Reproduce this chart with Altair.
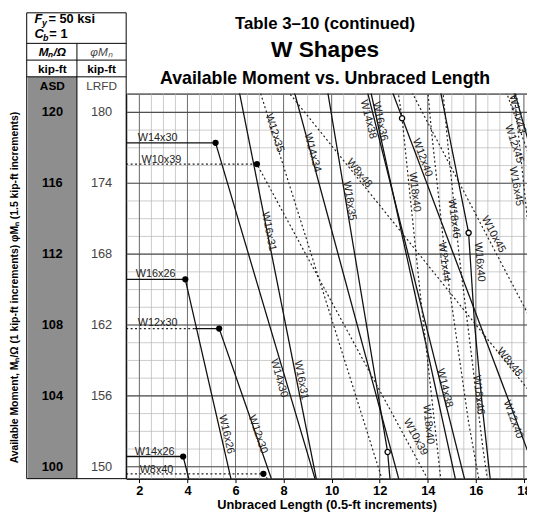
import altair as alt
import numpy as np
import pandas as pd

# ---------------- values ----------------
LB_DOMAIN = [1.45, 18.13]          # unbraced length, ft
M_DOMAIN = [99.33, 121.06]         # ASD available moment, kip-ft
PLOT_W, PLOT_H = 407, 391

x_ticks = [2, 4, 6, 8, 10, 12, 14, 16, 18]
asd_values = [120, 116, 112, 108, 104, 100]
lrfd_values = [180, 174, 168, 162, 156, 150]

shape_names = ["W14x26", "W8x40", "W16x26", "W12x30 left", "W12x30", "W14x30",
               "W10x39", "W16x31", "W12x35", "W14x34", "W18x35", "W14x38",
               "W16x36", "W8x48", "W12x40", "W18x40", "W18x46", "W21x44",
               "W10x45", "W16x40", "W12x45", "W14x43", "W16x45"]
shape_styles = ["solid", "dotted", "solid", "dotted", "solid", "solid",
                "dotted", "solid", "dotted", "solid", "solid", "solid",
                "solid", "dotted", "solid", "dotted", "dotted", "dotted",
                "dotted", "solid", "dotted", "solid", "dotted"]
shape_lb = [
    [1.45, 3.82, 11.1],
    [1.45, 7.16, 29.9],
    [1.45, 3.91, 11.2],
    [1.45, 4.30],
    [4.30, 5.32, 15.6],
    [1.45, 5.17, 14.9],
    [1.45, 6.89, 24.2],
    [4.13, 11.8],
    [5.44, 16.6],
    [5.40, 15.6],
    [4.31, 12.33, 12.5],
    [5.47, 16.2],
    [5.37, 15.2],
    [7.35, 35.2],
    [6.85, 21.1],
    [4.49, 12.93, 13.7, 14.55, 14.75],
    [4.56, 13.7, 14.3, 14.85, 15.3, 16.3, 16.6],
    [4.45, 13.0, 13.55, 14.15, 14.75, 15.7, 16.3],
    [7.10, 26.9],
    [5.55, 15.7, 15.95, 16.3, 16.6],
    [6.89, 22.4],
    [6.68, 20.0],
    [5.55, 17.2, 17.6, 18.3],
]
shape_m = [
    [100.58, 100.58, 62.0],
    [99.60, 99.60, 62.3],
    [110.58, 110.58, 67.4],
    [107.80, 107.80],
    [107.80, 107.80, 67.7],
    [118.28, 118.28, 73.7],
    [117.08, 117.08, 73.8],
    [134.98, 82.7],
    [127.98, 79.9],
    [136.48, 85.2],
    [166.2, 100.83, 98.2],
    [153.7, 95.7],
    [160.0, 99.0],
    [122.58, 75.7],
    [141.6, 90.3],
    [195.9, 119.67, 109.6, 99.2, 97.0],
    [226.6, 137.9, 126.0, 118.0, 112.0, 101.0, 98.2],
    [238.3, 142.8, 128.0, 119.0, 111.5, 102.5, 98.0],
    [137.3, 86.0],
    [182.4, 113.2, 108.0, 103.0, 99.3],
    [160.5, 101.7],
    [174.0, 109.6],
    [205.6, 127.3, 121.0, 112.0],
]

dot_lb = [5.17, 6.89, 3.91, 5.32, 3.82, 7.16]
dot_m = [118.28, 117.08, 110.58, 107.80, 100.58, 99.60]
ring_lb = [12.33, 12.93, 15.70]
ring_m = [100.83, 119.67, 113.20]

hlabel_text = ["W14x30", "W10x39", "W16x26", "W12x30", "W14x26", "W8x40"]
hlabel_lb = [1.93, 2.09, 1.85, 1.93, 1.81, 2.01]
hlabel_m = [118.56, 117.33, 110.89, 108.11, 100.83, 99.83]

rlabel_text = ["W12x35", "W14x34", "W16x31", "W16x31", "W14x30", "W16x26",
               "W12x30", "W14x38", "W16x36", "W12x40", "W8x48", "W18x35",
               "W18x40", "W18x46", "W21x44", "W10x45", "W16x40", "W14x38",
               "W18x40", "W12x40", "W8x48", "W18x46", "W10x39", "W14x43",
               "W12x45", "W16x45"]
rlabel_lb = [7.62, 9.20, 7.38, 8.73, 7.81, 5.62,
             6.93, 11.52, 12.01, 13.77, 11.15, 10.74,
             13.45, 15.09, 14.68, 16.73, 16.15, 14.70,
             14.02, 17.55, 17.40, 16.11, 13.49, 17.72,
             17.59, 17.67]
rlabel_m = [118.83, 117.72, 113.28, 104.89, 105.00, 101.83,
            101.83, 119.61, 119.50, 117.44, 116.56, 115.00,
            115.50, 114.00, 111.56, 113.11, 111.56, 104.44,
            102.39, 102.67, 105.90, 104.06, 101.67, 119.90,
            118.22, 115.83]
rlabel_angle = [72, 75, 79, 79, 74, 77,
                71, 76, 78, 70, 51, 81,
                83, 83, 83, 62, 85, 76,
                84, 70, 51, 84, 62, 75,
                72, 80]

# ---------------- tables ----------------
rows = []
for name, style, lbs, ms in zip(shape_names, shape_styles, shape_lb, shape_m):
    for i, (a, b) in enumerate(zip(lbs, ms)):
        rows.append({"shape": name, "style": style, "idx": i, "Lb": a, "M": b})
lines = pd.DataFrame(rows)
dots = pd.DataFrame({"Lb": dot_lb, "M": dot_m})
rings = pd.DataFrame({"Lb": ring_lb, "M": ring_m})
hlabels = pd.DataFrame({"t": hlabel_text, "Lb": hlabel_lb, "M": hlabel_m})
rlabels = pd.DataFrame({"t": rlabel_text, "Lb": rlabel_lb, "M": rlabel_m, "a": rlabel_angle})
ticks = pd.DataFrame({"M": asd_values, "asd": [str(v) for v in asd_values],
                      "lrfd": [str(v) for v in lrfd_values]})
vminor = pd.DataFrame({"Lb": np.arange(1.5, 18.01, 0.5)})
vmajor = pd.DataFrame({"Lb": x_ticks})
hminor = pd.DataFrame({"M": np.arange(100, 121, 1)})
hmajor = pd.DataFrame({"M": asd_values})
one = pd.DataFrame({"k": [0]})

FONT = "Liberation Sans, Arial, sans-serif"
NARROW = "Liberation Sans Narrow, Liberation Sans, Arial, sans-serif"

xs = alt.Scale(domain=LB_DOMAIN, nice=False, zero=False)
ys = alt.Scale(domain=M_DOMAIN, nice=False, zero=False)
x_axis = alt.Axis(values=x_ticks, format="d", title="Unbraced Length (0.5-ft increments)",
                  grid=False, labelFont=NARROW, labelFontSize=13, labelFontWeight="bold",
                  labelColor="black", labelPadding=2, labelFlush=False, labelOverlap=False,
                  tickSize=4, tickColor="black", domainColor="black", domainWidth=1,
                  titleFont=NARROW, titleFontSize=13, titleFontWeight="bold",
                  titleColor="black", titlePadding=1)
X = alt.X("Lb:Q", scale=xs, axis=x_axis)
Y = alt.Y("M:Q", scale=ys, axis=None)

layers = []
layers.append(alt.Chart(vminor).mark_rule(color="#b4b4b4", strokeWidth=0.7).encode(x=X))
layers.append(alt.Chart(hminor).mark_rule(color="#b4b4b4", strokeWidth=0.7).encode(y=Y))
layers.append(alt.Chart(vmajor).mark_rule(color="#707070", strokeWidth=1).encode(x=X))
layers.append(alt.Chart(hmajor).mark_rule(color="#505050", strokeWidth=1.2).encode(y=Y))

layers.append(alt.Chart(lines).transform_filter(alt.datum.style == "solid")
              .mark_line(clip=True, color="#111111", strokeWidth=1.3)
              .encode(x=X, y=Y, detail="shape:N", order="idx:Q"))
layers.append(alt.Chart(lines).transform_filter(alt.datum.style == "dotted")
              .mark_line(clip=True, color="#222222", strokeWidth=1.2, strokeDash=[2, 2.5])
              .encode(x=X, y=Y, detail="shape:N", order="idx:Q"))
layers.append(alt.Chart(dots).mark_point(shape="circle", filled=True, color="black", size=40, opacity=1)
              .encode(x=X, y=Y))
layers.append(alt.Chart(rings).mark_point(shape="circle", filled=True, fill="white", stroke="black",
                                          strokeWidth=1.3, size=28, opacity=1)
              .encode(x=X, y=Y))
layers.append(alt.Chart(hlabels).mark_text(align="left", baseline="middle", font=FONT,
                                           fontSize=11, color="#222222", clip=True)
              .encode(x=X, y=Y, text="t:N"))
layers.append(alt.Chart(rlabels).mark_text(align="center", baseline="middle", font=FONT,
                                           fontSize=11, color="#222222", clip=True)
              .encode(x=X, y=Y, text="t:N", angle=alt.Angle("a:Q", scale=None)))

# ---- left table (ASD / LRFD columns) ----
layers.append(alt.Chart(one).mark_rect(color="#8e8e8e")
              .encode(x=alt.value(-100), x2=alt.value(-50), y=alt.value(-17), y2=alt.value(PLOT_H)))
layers.append(alt.Chart(one).mark_rect(fillOpacity=0, stroke="black", strokeWidth=1)
              .encode(x=alt.value(-101), x2=alt.value(0), y=alt.value(-82), y2=alt.value(PLOT_H)))
for yy in [-51, -34, -17]:
    layers.append(alt.Chart(one).mark_rule(color="black", strokeWidth=1)
                  .encode(x=alt.value(-101), x2=alt.value(0), y=alt.value(yy)))
layers.append(alt.Chart(one).mark_rule(color="black", strokeWidth=1)
              .encode(x=alt.value(-50), y=alt.value(-51), y2=alt.value(PLOT_H)))

layers.append(alt.Chart(ticks).mark_text(font=NARROW, fontSize=13, fontWeight="bold", color="black")
              .encode(x=alt.value(-75), y=Y, text="asd:N"))
layers.append(alt.Chart(ticks).mark_text(font=NARROW, fontSize=13, color="#444444")
              .encode(x=alt.value(-25), y=Y, text="lrfd:N"))


def txt(s, x, y, size=12, weight="bold", style="normal", align="center", color="black",
        font=FONT, angle=0):
    return (alt.Chart(one)
            .mark_text(text=s, fontSize=size, fontWeight=weight, fontStyle=style, align=align,
                       baseline="middle", color=color, font=font, angle=angle)
            .encode(x=alt.value(x), y=alt.value(y)))


layers += [
    txt("F", -93, -76, 13, style="italic", align="left"),
    txt("y", -85.5, -72, 9, style="italic", align="left"),
    txt("= 50 ksi", -79, -76, 13, align="left", font=NARROW),
    txt("C", -93, -60, 13, style="italic", align="left"),
    txt("b", -84.5, -56, 9, style="italic", align="left"),
    txt("= 1", -78, -60, 13, align="left", font=NARROW),
    txt("M\u2099/\u03a9", -75, -42, 12, style="italic", font=NARROW),
    txt("\u03c6M\u2099", -25, -42, 12, weight="normal", style="italic", color="#444444", font=NARROW),
    txt("kip-ft", -75, -25, 12, font=NARROW),
    txt("kip-ft", -25, -25, 12, font=NARROW),
    txt("ASD", -75, -8, 12, font=NARROW),
    txt("LRFD", -25, -8, 12, weight="normal", color="#444444", font=NARROW),
    txt("Table 3\u201310 (continued)", 202, -71, 17),
    txt("W Shapes", 202, -44, 23),
    txt("Available Moment vs. Unbraced Length", 202, -15, 18),
    txt("Available Moment, M\u2099/\u03a9 (1 kip-ft increments) \u03c6M\u2099 (1.5 kip-ft increments)",
        -113, 197, 10.5, font=NARROW, angle=270),
]

chart = (alt.layer(*layers)
         .properties(width=PLOT_W, height=PLOT_H,
                     autosize=alt.AutoSizeParams(type="none"),
                     padding={"left": 120, "top": 83, "right": 0, "bottom": 32},
                     background="white")
         .configure_view(stroke="black", strokeWidth=1))

chart.save("out.html", embed_options={"renderer": "svg", "actions": False})
